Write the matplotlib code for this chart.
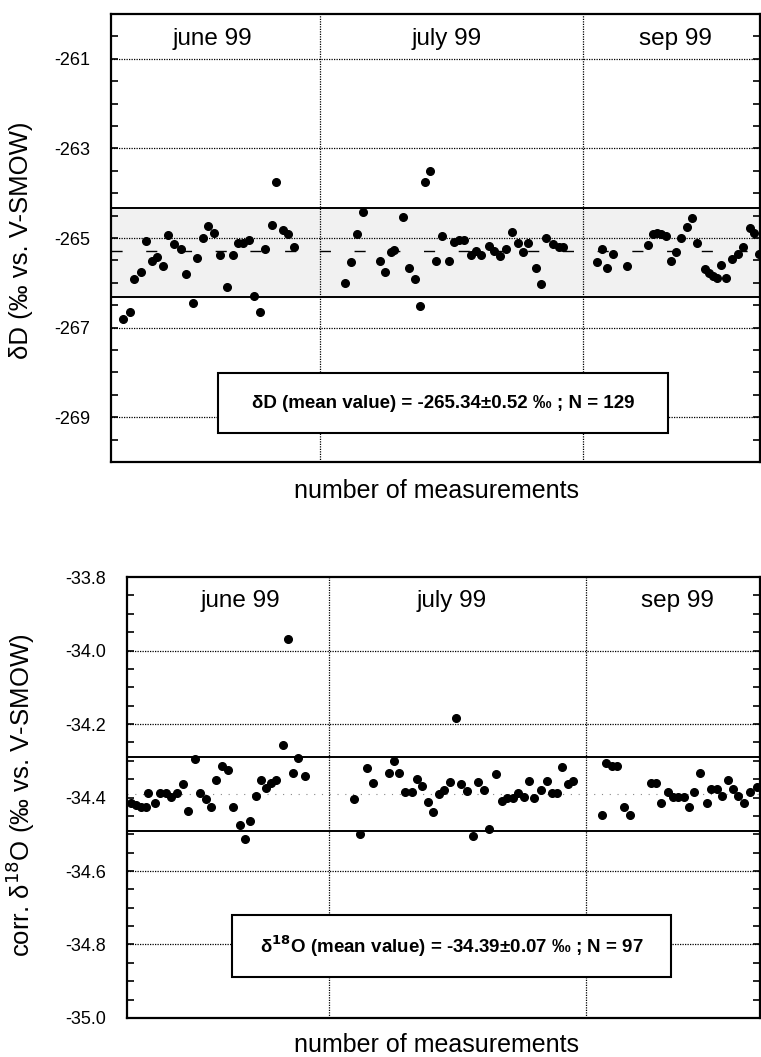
import matplotlib
matplotlib.use("Agg")
import matplotlib.pyplot as plt
from matplotlib.patches import Rectangle

plt.rcParams['font.family'] = ['Liberation Sans', 'DejaVu Sans']

# ---- delta D panel (top) ----
dD_x = [2.4, 3.7, 4.6, 6.1, 7.1, 8.2, 9.3, 10.5, 11.4, 12.6, 14.1, 15.1, 16.4, 17.3, 18.4,
        19.4, 20.7, 21.9, 23.3, 24.4, 25.5, 26.5, 27.6, 28.7, 29.9, 30.9, 32.2, 33.1, 34.5,
        35.5, 36.7,
        46.8, 48.0, 49.3, 50.5, 53.8, 54.9, 56.0, 56.7, 58.5, 59.6, 60.8, 61.8, 62.8, 63.8,
        65.1, 66.3, 67.7, 68.8, 69.8, 70.8, 72.1, 73.1, 74.1, 75.7, 76.8, 78.0, 79.1, 80.3,
        81.5, 82.5, 83.6, 85.1, 86.1, 87.1, 88.5, 89.8, 90.5,
        97.3, 98.3, 99.3, 100.6, 103.3, 107.5, 108.5, 109.3, 110.1, 111.1, 112.1, 113.1,
        114.1, 115.3, 116.3, 117.3, 119.0, 119.8, 120.6, 121.3, 122.2, 123.1, 124.3, 125.5,
        126.6, 127.9, 128.8, 129.8]
dD_y = [-266.81, -266.65, -265.92, -265.75, -265.06, -265.51, -265.42, -265.62, -264.93,
        -265.13, -265.25, -265.80, -266.44, -265.45, -265.01, -264.73, -264.89, -265.38,
        -266.10, -265.38, -265.10, -265.10, -265.04, -266.30, -266.64, -265.25, -264.71,
        -263.74, -264.81, -264.91, -265.19,
        -266.00, -265.54, -264.91, -264.41, -265.52, -265.75, -265.31, -265.26, -264.54,
        -265.67, -265.92, -266.51, -263.76, -263.51, -265.51, -264.96, -265.51, -265.08,
        -265.04, -265.04, -265.38, -265.28, -265.38, -265.17, -265.28, -265.41, -265.25,
        -264.87, -265.12, -265.32, -265.12, -265.68, -266.03, -265.01, -265.13, -265.21,
        -265.21,
        -265.53, -265.25, -265.68, -265.36, -265.63, -265.16, -264.91, -264.89, -264.91,
        -264.96, -265.51, -265.31, -264.99, -264.76, -264.56, -265.11, -265.69, -265.77,
        -265.84, -265.90, -265.60, -265.90, -265.47, -265.36, -265.19, -264.78, -264.89,
        -265.36]
dD_mean = -265.30
dD_limits = [-264.34, -266.31]
dD_ticks = [-261, -263, -265, -267, -269]
dD_months = [41.8, 94.6]

# ---- delta 18O panel (bottom) ----
dO_x = [0.9, 1.9, 2.9, 3.9, 4.3, 5.7, 6.7, 7.9, 8.9, 10.0, 11.2, 12.2, 13.7, 14.7, 15.8,
        16.9, 17.9, 19.0, 20.2, 21.3, 22.6, 23.7, 24.7, 25.8, 26.9, 27.9, 28.9, 29.9, 31.3,
        32.2, 33.3, 34.4, 35.7,
        45.6, 46.8, 48.1, 49.3, 52.5, 53.5, 54.6, 55.7, 57.1, 58.1, 59.2, 60.3, 61.4, 62.5,
        63.6, 64.9, 66.1, 67.1, 68.3, 69.5, 70.4, 71.6, 72.6, 74.0, 75.2, 76.3, 77.4, 78.5,
        79.6, 80.7, 81.7, 83.1, 84.3, 85.3, 86.3, 87.3, 88.5, 89.4,
        95.3, 96.1, 97.3, 98.3, 99.8, 100.9, 105.1, 106.1, 107.1, 108.6, 109.6, 110.6, 111.7,
        112.7, 113.7, 114.9, 116.3, 117.1, 118.3, 119.4, 120.5, 121.6, 122.6, 123.7, 125.0,
        126.3]
dO_y = [-34.416, -34.420, -34.427, -34.427, -34.387, -34.416, -34.387, -34.387, -34.398,
        -34.387, -34.362, -34.436, -34.295, -34.387, -34.405, -34.427, -34.353, -34.313,
        -34.324, -34.425, -34.474, -34.512, -34.463, -34.396, -34.353, -34.373, -34.360,
        -34.353, -34.256, -33.969, -34.332, -34.292, -34.341,
        -34.403, -34.500, -34.321, -34.360, -34.332, -34.300, -34.332, -34.384, -34.384,
        -34.349, -34.369, -34.412, -34.440, -34.391, -34.380, -34.358, -34.185, -34.364,
        -34.382, -34.506, -34.357, -34.380, -34.486, -34.337, -34.410, -34.400, -34.400,
        -34.387, -34.398, -34.355, -34.400, -34.380, -34.356, -34.388, -34.388, -34.317,
        -34.364, -34.355,
        -34.448, -34.305, -34.314, -34.314, -34.427, -34.448, -34.360, -34.360, -34.416,
        -34.386, -34.398, -34.398, -34.398, -34.427, -34.386, -34.333, -34.416, -34.377,
        -34.377, -34.396, -34.352, -34.377, -34.396, -34.416, -34.386, -34.371]
dO_mean = -34.39
dO_limits = [-34.29, -34.49]
dO_ticks = [-33.8, -34.0, -34.2, -34.4, -34.6, -34.8, -35.0]
dO_grid = [-34.0, -34.2, -34.6, -34.8]
dO_months = [40.6, 92.0]

month_names = ["june 99", "july 99", "sep 99"]

fig = plt.figure(figsize=(7.61, 10.57), dpi=100)
ax1 = fig.add_axes([0.1459, 0.5629, 0.8528, 0.4238])
ax2 = fig.add_axes([0.1669, 0.0369, 0.8318, 0.4172])


def style_axis(ax, ylim, xmax, ticks, minor_step):
    ax.set_ylim(*ylim)
    ax.set_xlim(0, xmax)
    ax.set_yticks(ticks)
    ax.set_yticks([ylim[0] + i * minor_step for i in range(int(round((ylim[1] - ylim[0]) / minor_step)) + 1)], minor=True)
    ax.set_xticks([])
    ax.tick_params(axis='y', which='both', direction='in', left=True, right=True,
                   length=5, width=1.2, labelsize=13, pad=15)
    for s in ax.spines.values():
        s.set_linewidth(1.6)


# top panel
style_axis(ax1, (-270, -260), 130, dD_ticks, 0.5)
for t in dD_ticks:
    ax1.axhline(t, color='black', lw=0.9, ls=(0, (1, 1)), zorder=1)
for m in dD_months:
    ax1.axvline(m, color='black', lw=0.9, ls=(0, (1, 1)), zorder=1)
ax1.axhspan(dD_limits[1], dD_limits[0], color='#f1f1f1', zorder=0)
for lim in dD_limits:
    ax1.axhline(lim, color='black', lw=1.4, zorder=2)
ax1.axhline(dD_mean, color='black', lw=1.0, ls=(0, (8, 17)), zorder=2)
ax1.plot(dD_x, dD_y, 'o', color='black', ms=5.5, zorder=4)
ax1.set_yticklabels([str(t) for t in dD_ticks])

# bottom panel
style_axis(ax2, (-35.0, -33.8), 127, dO_ticks, 0.05)
for t in dO_grid:
    ax2.axhline(t, color='black', lw=0.9, ls=(0, (1, 1)), zorder=1)
for m in dO_months:
    ax2.axvline(m, color='black', lw=0.9, ls=(0, (1, 1)), zorder=1)
for lim in dO_limits:
    ax2.axhline(lim, color='black', lw=1.4, zorder=2)
ax2.axhline(dO_mean, color='#888888', lw=0.8, ls=(0, (1, 6)), zorder=1)
ax2.plot(dO_x, dO_y, 'o', color='black', ms=5.5, zorder=4)
ax2.set_yticklabels(["%.1f" % t for t in dO_ticks])

# month labels
for ax, xs in ((ax1, [0.156, 0.517, 0.869]), (ax2, [0.179, 0.513, 0.869])):
    for xx, name in zip(xs, month_names):
        ax.text(xx, 0.945, name, transform=ax.transAxes, ha='center', va='center', fontsize=17.5)

# result boxes
ax1.add_patch(Rectangle((0.165, 0.0647), 0.693, 0.134, transform=ax1.transAxes,
                        facecolor='white', edgecolor='black', lw=1.5, zorder=5))
ax1.text(0.5116, 0.1317, "δD (mean value) = -265.34±0.52 ‰ ; N = 129", transform=ax1.transAxes,
         ha='center', va='center', fontsize=13.5, fontweight='bold', zorder=6)
ax2.add_patch(Rectangle((0.1659, 0.093), 0.693, 0.1406, transform=ax2.transAxes,
                        facecolor='white', edgecolor='black', lw=1.5, zorder=5))
ax2.text(0.5126, 0.163, "δ$^{\\mathbf{18}}$O (mean value) = -34.39±0.07 ‰ ; N = 97", transform=ax2.transAxes,
         ha='center', va='center', fontsize=13.5, fontweight='bold', zorder=6)

# axis titles
fig.text(0.573, 1 - 491 / 1057, "number of measurements", ha='center', va='center', fontsize=18)
fig.text(0.573, 1 - 1045 / 1057, "number of measurements", ha='center', va='center', fontsize=18)
fig.text(0.027, 1 - 240 / 1057, "δD (‰ vs. V-SMOW)", rotation=90, ha='center', va='center', fontsize=18.5)
fig.text(0.027, 1 - 795 / 1057, "corr. δ$^{18}$O (‰ vs. V-SMOW)", rotation=90, ha='center', va='center', fontsize=18.5)

fig.savefig("out.png", dpi=100)
